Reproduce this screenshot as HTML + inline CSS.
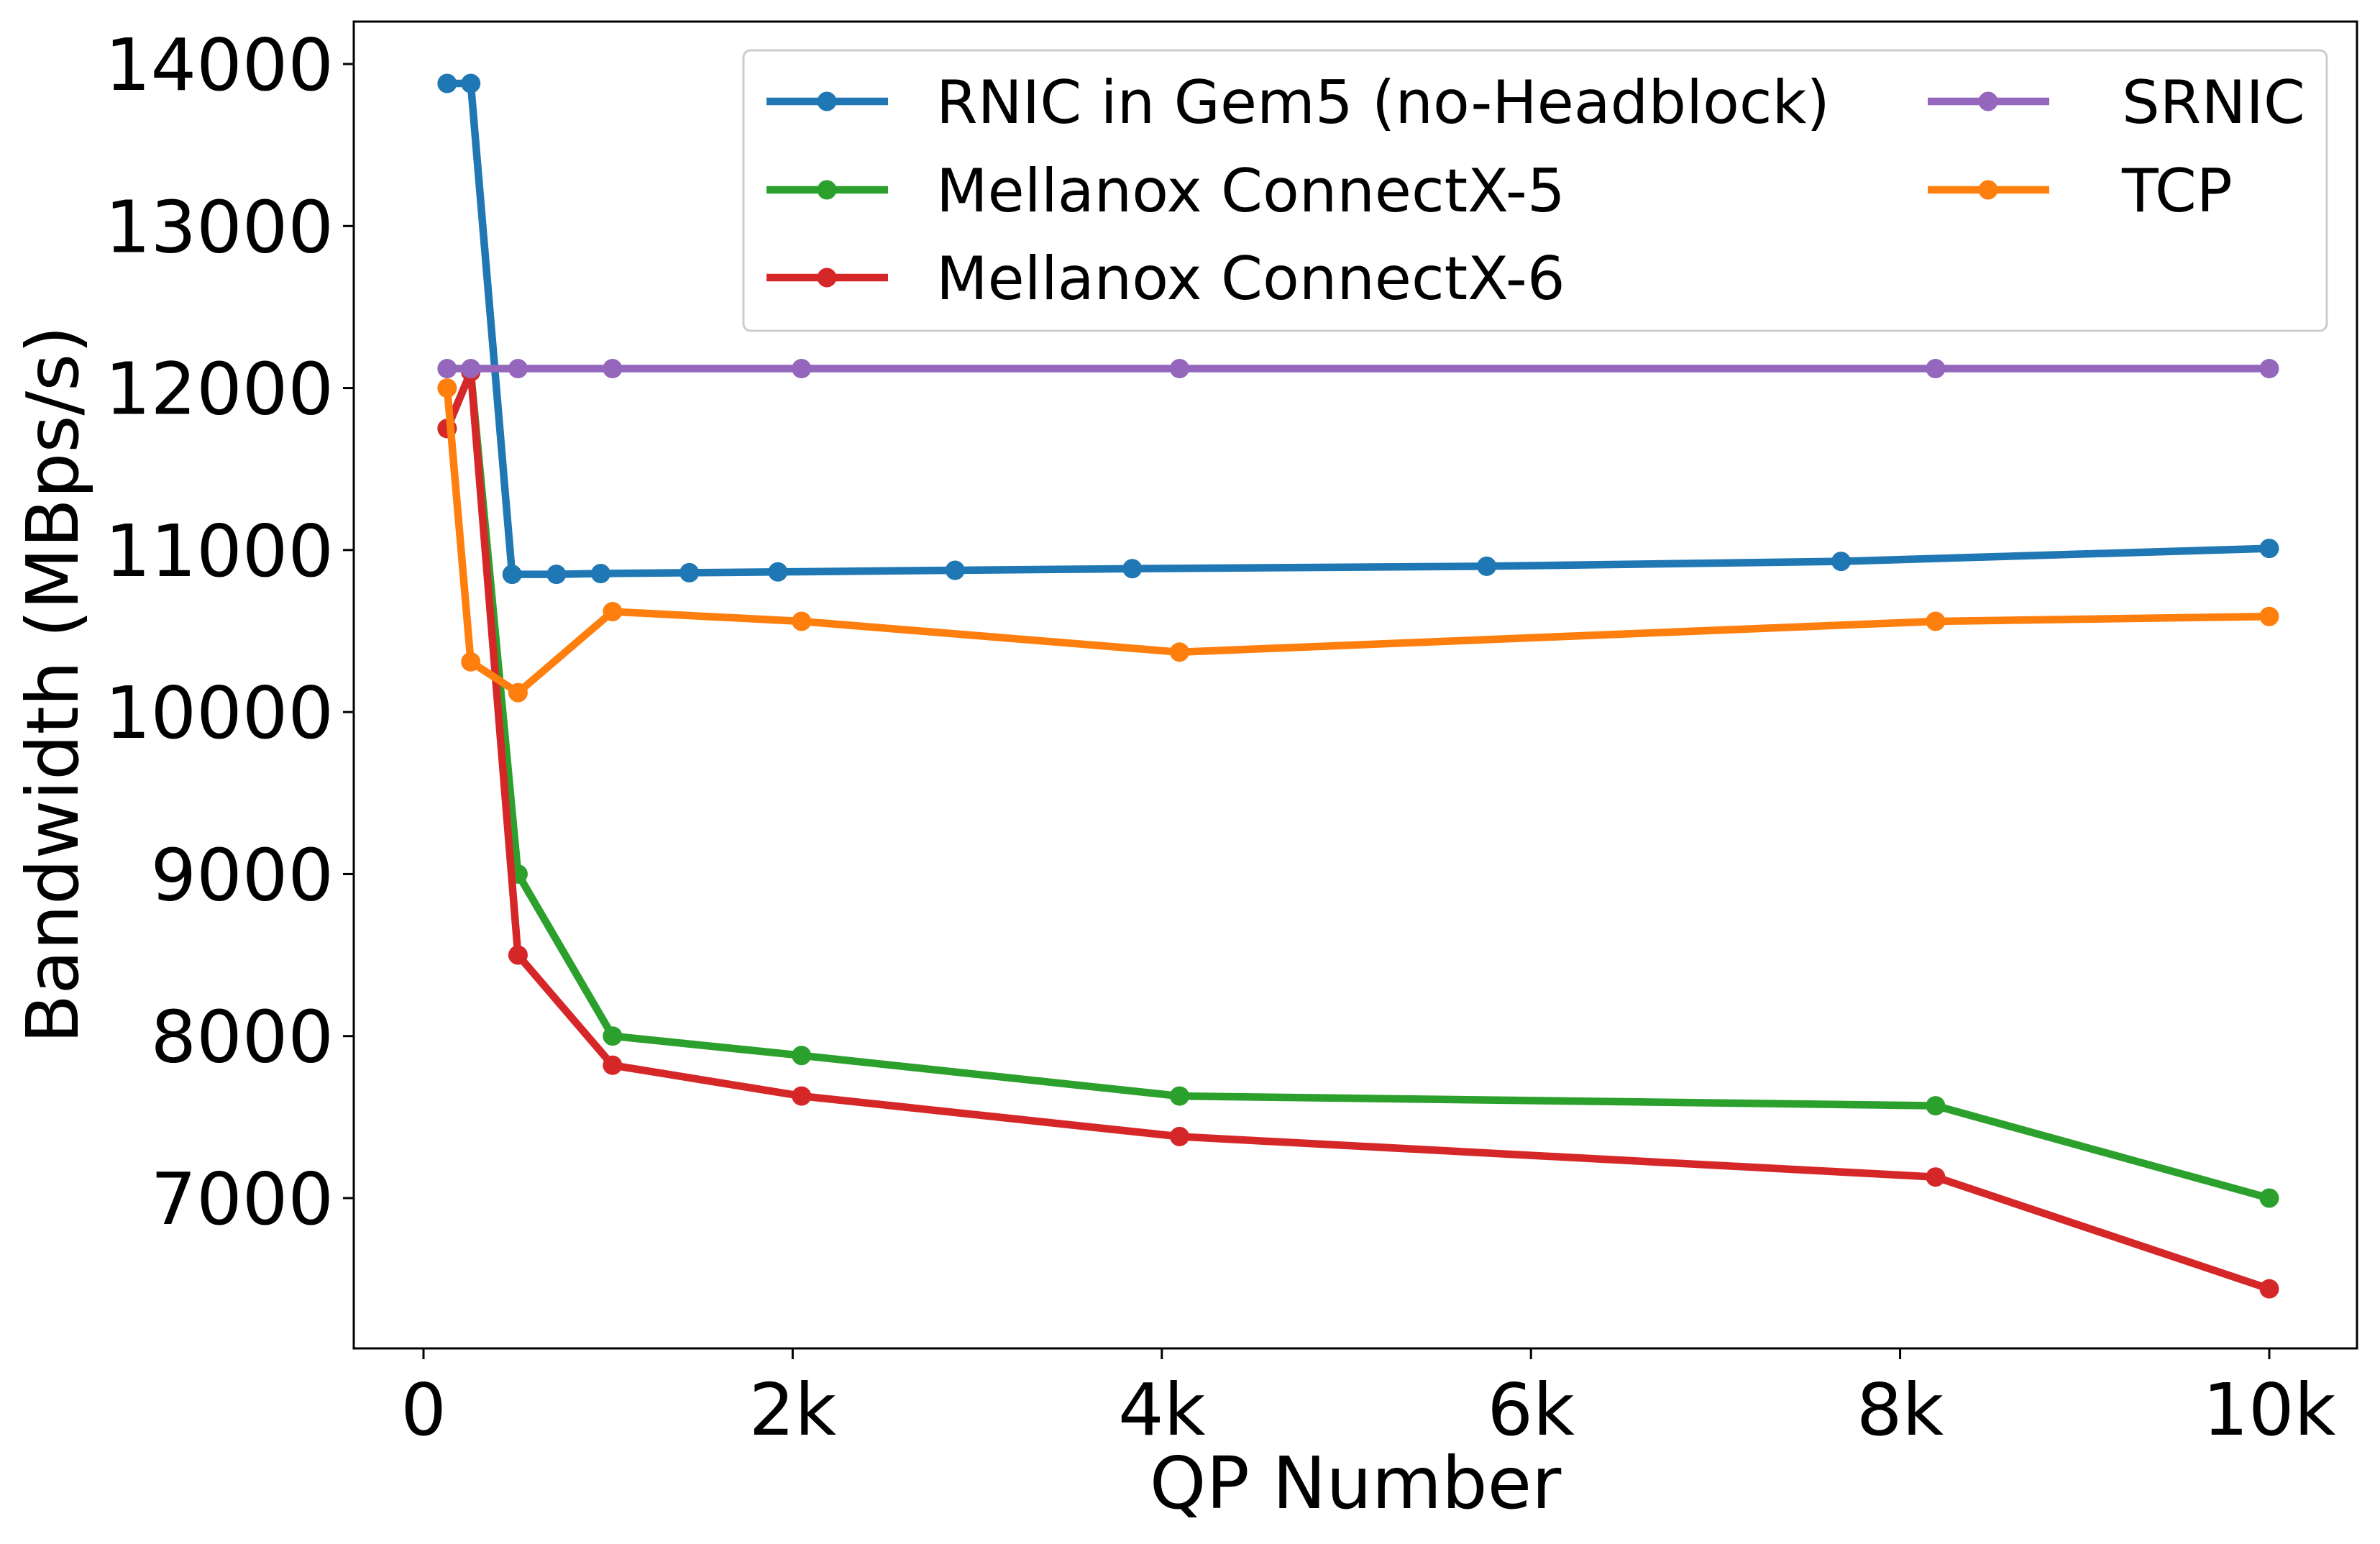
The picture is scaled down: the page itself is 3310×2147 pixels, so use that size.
<!DOCTYPE html>
<html><head><meta charset="utf-8"><style>
html,body{margin:0;padding:0;background:#fff;}
svg{display:block;font-family:"DejaVu Sans","Liberation Sans",sans-serif;}
</style></head><body>
<svg id="chart" width="3310" height="2147" viewBox="0 0 3310 2147" xmlns="http://www.w3.org/2000/svg">
<rect width="3310" height="2147" fill="#fff"/>
<g id="plot"></g>
<g id="axes"></g>
<g id="legend"></g>
</svg>
<script>
const xTicks = [0, 2000, 4000, 6000, 8000, 10000];
const xTickLabels = ["0", "2k", "4k", "6k", "8k", "10k"];
const yTicks = [7000, 8000, 9000, 10000, 11000, 12000, 13000, 14000];
const yTickLabels = ["7000", "8000", "9000", "10000", "11000", "12000", "13000", "14000"];
const seriesNames = ["RNIC in Gem5 (no-Headblock)", "Mellanox ConnectX-5", "Mellanox ConnectX-6", "SRNIC", "TCP"];
const seriesColors = ["#1f77b4", "#2ca02c", "#d62728", "#9467bd", "#ff7f0e"];
const gem5X = [128, 256, 480, 720, 960, 1440, 1920, 2880, 3840, 5760, 7680, 10000];
const gem5Y = [13880, 13880, 10850, 10850, 10855, 10860, 10865, 10875, 10885, 10900, 10930, 11010];
const qpX = [128, 256, 512, 1024, 2048, 4096, 8192, 10000];
const cx5Y = [11750, 12100, 9000, 8000, 7880, 7630, 7570, 7000];
const cx6Y = [11750, 12100, 8500, 7820, 7630, 7380, 7130, 6440];
const srnicY = [12120, 12120, 12120, 12120, 12120, 12120, 12120, 12120];
const tcpY = [12000, 10310, 10120, 10620, 10560, 10370, 10560, 10590];

const L = 492, R = 3278, T = 30, B = 1875;
function xs(v){ return 589 + v * (3156 - 589) / 10000; }
function ys(v){ return 1666 - (v - 7000) * (1666 - 89) / 7000; }
const NS = "http://www.w3.org/2000/svg";
function mk(tag, attrs, parent){ const e = document.createElementNS(NS, tag); for (const k in attrs) e.setAttribute(k, attrs[k]); parent.appendChild(e); return e; }

const LW = 10.5, MR = 13.5;
const plot = document.getElementById('plot');
const seriesX = [gem5X, qpX, qpX, qpX, qpX];
const seriesY = [gem5Y, cx5Y, cx6Y, srnicY, tcpY];
[0, 1, 2, 3, 4].forEach(i => {
  const g = mk('g', {}, plot);
  
  
  const pts = seriesX[i].map((x, j) => xs(x).toFixed(1) + ',' + ys(seriesY[i][j]).toFixed(1)).join(' ');
  const pl = mk('polyline', {points: pts, fill: 'none', stroke: seriesColors[i], 'stroke-width': LW, 'stroke-linejoin': 'round', 'stroke-linecap': 'square'}, g);
  
  
  seriesX[i].forEach((x, j) => {
    const c = mk('circle', {cx: xs(x), cy: ys(seriesY[i][j]), r: MR, fill: seriesColors[i]}, g);
    
    
  });
});

const axes = document.getElementById('axes');
const frame = mk('rect', {x: L, y: T, width: R - L, height: B - T, fill: 'none', stroke: '#000', 'stroke-width': 3}, axes);


xTicks.forEach((v, i) => {
  mk('line', {x1: xs(v), x2: xs(v), y1: B, y2: B + 15, stroke: '#000', 'stroke-width': 3}, axes);
  const t = mk('text', {x: xs(v), y: 1995, 'font-size': 100, 'text-anchor': 'middle', fill: '#000'}, axes);
  t.textContent = xTickLabels[i];
  
  
});
yTicks.forEach((v, i) => {
  mk('line', {x1: L - 15, x2: L, y1: ys(v), y2: ys(v), stroke: '#000', 'stroke-width': 3}, axes);
  const t = mk('text', {x: L - 28, y: ys(v) + 36, 'font-size': 100, 'text-anchor': 'end', fill: '#000'}, axes);
  t.textContent = yTickLabels[i];
  
  
});
const xl = mk('text', {x: 1885, y: 2097, 'font-size': 100, 'text-anchor': 'middle', fill: '#000'}, axes);
xl.textContent = 'QP Number';


const yl = mk('text', {x: 0, y: 0, 'font-size': 100, 'text-anchor': 'middle', fill: '#000', transform: 'translate(108,952) rotate(-90)'}, axes);
yl.textContent = 'Bandwidth (MBps/s)';



const legend = document.getElementById('legend');


const lb = mk('rect', {x: 1034, y: 70, width: 2202, height: 390, rx: 10, fill: '#fff', 'fill-opacity': 0.8, stroke: '#ccc', 'stroke-width': 3}, legend);


const legPos = [[1066, 141], [1066, 264], [1066, 386], [2681, 141], [2681, 264]];
const legTextX = [1302, 1302, 1302, 2951, 2951];
seriesNames.forEach((n, i) => {
  const g = mk('g', {}, legend);
  
  
  const [lx, ly] = legPos[i];
  mk('line', {x1: lx, x2: lx + 169, y1: ly, y2: ly, stroke: seriesColors[i], 'stroke-width': LW}, g);
  mk('circle', {cx: lx + 84, cy: ly, r: MR, fill: seriesColors[i]}, g);
  const t = mk('text', {x: legTextX[i], y: ly + 30, 'font-size': 83, fill: '#000'}, g);
  t.textContent = n;
});
</script>
</body></html>
